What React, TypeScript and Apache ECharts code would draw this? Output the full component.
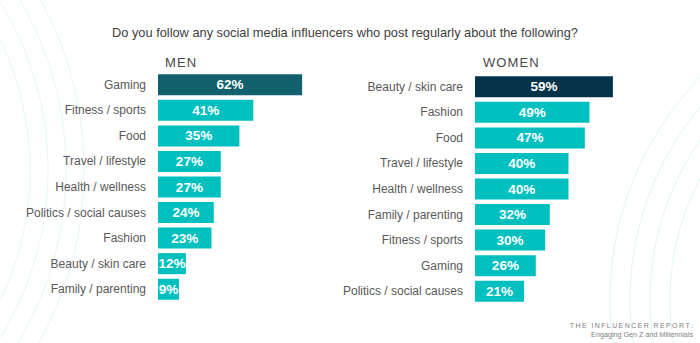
import React, { useEffect, useRef } from "react";
import * as echarts from "echarts";

const menCategories = ["Gaming", "Fitness / sports", "Food", "Travel / lifestyle", "Health / wellness", "Politics / social causes", "Fashion", "Beauty / skin care", "Family / parenting"];
const menValues = [62, 41, 35, 27, 27, 24, 23, 12, 9];
const womenCategories = ["Beauty / skin care", "Fashion", "Food", "Travel / lifestyle", "Health / wellness", "Family / parenting", "Fitness / sports", "Gaming", "Politics / social causes"];
const womenValues = [59, 49, 47, 40, 40, 32, 30, 26, 21];

const TEAL = "#00BFBF";
const MEN_TOP = "#12606E";
const WOMEN_TOP = "#05334A";
const FONT = "'Liberation Sans', Arial, sans-serif";
const HS = "\u200A";
const TS = "\u2009";

export default function App() {
  const ref = useRef<HTMLDivElement>(null);
  useEffect(() => {
    if (!ref.current) return;
    const chart = echarts.init(ref.current, null, { renderer: "svg" });
    const arcs: any[] = [];
    [300, 318, 336, 354].forEach((r, i) => {
      arcs.push({ type: "circle", shape: { cx: -270, cy: 170, r }, style: { fill: "none", stroke: "#E8F6F6", lineWidth: 1 }, silent: true, z: -10 });
      arcs.push({ type: "circle", shape: { cx: 930, cy: 300, r: r - 40 + i * 2 }, style: { fill: "none", stroke: "#E3F5F5", lineWidth: 1 }, silent: true, z: -10 });
    });
    const catAxis = (data: string[], gridIndex: number) => ({
      type: "category",
      gridIndex,
      data,
      inverse: true,
      axisLine: { show: false },
      axisTick: { show: false },
      axisLabel: { color: "#595959", fontSize: 12, fontFamily: FONT, margin: 12 },
    });
    const valAxis = (gridIndex: number) => ({
      type: "value",
      gridIndex,
      min: 0,
      max: 80,
      show: false,
      splitLine: { show: false },
    });
    const barSeries = (vals: number[], idx: number, top: string) => ({
      type: "bar",
      xAxisIndex: idx,
      yAxisIndex: idx,
      barWidth: 21,
      data: vals.map((v, i) => ({ value: v, itemStyle: { color: i === 0 ? top : TEAL } })),
      label: {
        show: true,
        position: "inside",
        formatter: "{c}%",
        color: "#FFFFFF",
        fontSize: 13.5,
        fontWeight: "bold",
        fontFamily: FONT,
      },
    });
    const spaced = (s: string, sp: string) => s.split("").join(sp);
    chart.setOption({
      animation: false,
      backgroundColor: "#FFFFFF",
      title: [
        { text: "Do you follow any social media influencers who post regularly about the following?", left: 340, top: 21, textAlign: "center", textStyle: { fontSize: 12.8, fontWeight: "normal", color: "#404040", fontFamily: FONT } },
        { text: spaced("MEN", HS), left: 160, top: 51, textStyle: { fontSize: 13, fontWeight: "normal", color: "#4A4A4A", fontFamily: FONT } },
        { text: spaced("WOMEN", HS), left: 478, top: 51, textStyle: { fontSize: 13, fontWeight: "normal", color: "#4A4A4A", fontFamily: FONT } },
      ],
      graphic: [
        ...arcs,
        { type: "text", right: 7, top: 322, style: { text: spaced("THE INFLUENCER REPORT:", TS), fill: "#7F7F7F", fontSize: 7, fontFamily: FONT } },
        { type: "text", right: 7, top: 331, style: { text: "Engaging Gen Z and Millennials", fill: "#7F7F7F", fontSize: 7.2, fontFamily: FONT } },
      ],
      grid: [
        { left: 158, top: 72, width: 186, height: 230 },
        { left: 475, top: 74, width: 187, height: 230 },
      ],
      xAxis: [valAxis(0), valAxis(1)],
      yAxis: [catAxis(menCategories, 0), catAxis(womenCategories, 1)],
      series: [barSeries(menValues, 0, MEN_TOP), barSeries(womenValues, 1, WOMEN_TOP)],
    });
    return () => chart.dispose();
  }, []);
  return <div ref={ref} style={{ width: 700, height: 343, position: "absolute", left: 0, top: 0 }} />;
}
